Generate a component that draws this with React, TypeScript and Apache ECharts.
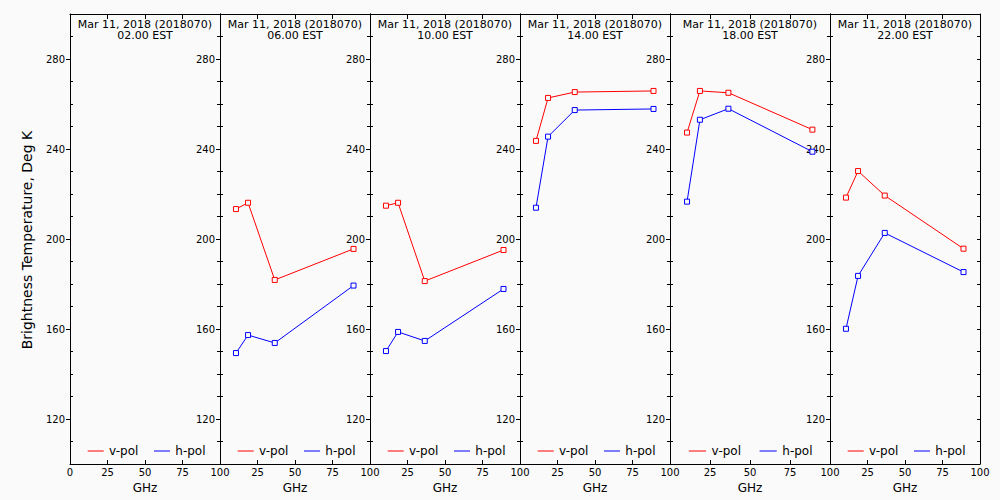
import React, { useEffect, useRef } from "react";
import * as echarts from "echarts";

// ---- data ----
const freqs = [10.65, 18.7, 36.5, 89.0];
const dateLabel = "Mar 11, 2018 (2018070)";
const times = ["02.00 EST", "06.00 EST", "10.00 EST", "14.00 EST", "18.00 EST", "22.00 EST"];

const vPol02: number[] = [];
const hPol02: number[] = [];
const vPol06 = [213.3, 216.1, 181.8, 195.6];
const hPol06 = [149.3, 157.3, 153.8, 179.3];
const vPol10 = [214.8, 216.1, 181.3, 195.1];
const hPol10 = [150.2, 158.7, 154.7, 177.8];
const vPol14 = [243.6, 262.7, 265.3, 265.8];
const hPol14 = [213.9, 245.5, 257.3, 257.8];
const vPol18 = [247.3, 265.8, 265.0, 248.6];
const hPol18 = [216.6, 253.0, 257.9, 238.8];
const vPol22 = [218.4, 230.2, 219.3, 195.7];
const hPol22 = [160.1, 183.6, 202.7, 185.3];

const vPols = [vPol02, vPol06, vPol10, vPol14, vPol18, vPol22];
const hPols = [hPol02, hPol06, hPol10, hPol14, hPol18, hPol22];

const yMajor = [120, 160, 200, 240, 280];
const yMinor = [110, 130, 140, 150, 170, 180, 190, 210, 220, 230, 250, 260, 270, 290];
const yAll = [110, 120, 130, 140, 150, 160, 170, 180, 190, 200, 210, 220, 230, 240, 250, 260, 270, 280, 290];
const xTicks = [25, 50, 75];
const xLabelsFirst = [0, 25, 50, 75, 100];
const xLabelsOther = [25, 50, 75, 100];

const RED = "#ff0000";
const BLUE = "#0000ff";
const FONT = "DejaVu Sans";

export default function App() {
  const ref = useRef<HTMLDivElement>(null);
  useEffect(() => {
    if (!ref.current) return;
    const chart = echarts.init(ref.current, undefined, { renderer: "svg" });

    const lefts = [70, 220, 370, 520, 670, 830];
    const widths = [150, 150, 150, 150, 160, 150];
    const top = 14;
    const height = 450;

    const grid: any[] = [];
    const xAxis: any[] = [];
    const yAxis: any[] = [];
    const series: any[] = [];
    const graphic: any[] = [];

    const mkData = (vals: number[]) => vals.map((v, i) => [freqs[i], v]);

    for (let i = 0; i < 6; i++) {
      const L = lefts[i];
      const W = widths[i];
      grid.push({ left: L, top, width: W, height, containLabel: false });
      // bottom x
      xAxis.push({
        type: "value",
        gridIndex: i,
        position: "bottom",
        min: 0,
        max: 100,
        name: "GHz",
        nameLocation: "middle",
        nameGap: 14,
        nameTextStyle: { fontFamily: FONT, fontSize: 12, color: "#000", verticalAlign: "top" },
        axisLine: { show: true, onZero: false, lineStyle: { color: "#000", width: 1 } },
        axisTick: { show: true, inside: true, length: 4, customValues: xTicks, lineStyle: { color: "#000" } },
        axisLabel: {
          show: true,
          margin: 3,
          fontFamily: FONT,
          fontSize: 10,
          color: "#000",
          customValues: i === 0 ? xLabelsFirst : xLabelsOther,
        },
        splitLine: { show: false },
      });
      // top x
      xAxis.push({
        type: "value",
        gridIndex: i,
        position: "top",
        min: 0,
        max: 100,
        axisLine: { show: true, onZero: false, lineStyle: { color: "#000", width: 1 } },
        axisTick: { show: true, inside: true, length: 5, customValues: xTicks, lineStyle: { color: "#000" } },
        axisLabel: { show: false },
        splitLine: { show: false },
      });
      // left major
      yAxis.push({
        type: "value",
        gridIndex: i,
        position: "left",
        min: 100,
        max: 300,
        axisLine: { show: true, onZero: false, lineStyle: { color: "#000", width: 1 } },
        axisTick: { show: true, inside: false, length: 4, customValues: yMajor, lineStyle: { color: "#000" } },
        axisLabel: {
          show: true,
          margin: 5,
          fontFamily: FONT,
          fontSize: 10,
          color: "#000",
          customValues: yMajor,
        },
        splitLine: { show: false },
      });
      // left minor
      yAxis.push({
        type: "value",
        gridIndex: i,
        position: "left",
        min: 100,
        max: 300,
        axisLine: { show: false },
        axisTick: { show: true, inside: true, length: 3, customValues: yMinor, lineStyle: { color: "#000" } },
        axisLabel: { show: false },
        splitLine: { show: false },
      });
      // right
      yAxis.push({
        type: "value",
        gridIndex: i,
        position: "right",
        min: 100,
        max: 300,
        axisLine: { show: true, onZero: false, lineStyle: { color: "#000", width: 1 } },
        axisTick: { show: true, inside: true, length: 3, customValues: yAll, lineStyle: { color: "#000" } },
        axisLabel: { show: false },
        splitLine: { show: false },
      });

      const pols: [string, number[], string][] = [
        ["v-pol", vPols[i], RED],
        ["h-pol", hPols[i], BLUE],
      ];
      for (const [name, vals, color] of pols) {
        if (!vals.length) continue;
        series.push({
          type: "line",
          name,
          xAxisIndex: 2 * i,
          yAxisIndex: 3 * i,
          data: mkData(vals),
          symbol: "rect",
          symbolSize: 5,
          lineStyle: { color, width: 1 },
          itemStyle: { color: "#fafafa", borderColor: color, borderWidth: 1 },
          emphasis: { disabled: true },
          z: 3,
        });
      }

      // title (two lines in one text)
      const cx = L + W / 2;
      graphic.push({
        type: "text",
        x: cx,
        y: 30,
        style: {
          text: dateLabel + "\n" + times[i],
          font: `11px "${FONT}"`,
          lineHeight: 11,
          fill: "#000",
          align: "center",
          verticalAlign: "middle",
        },
      });
      // legend
      const ly = 451;
      graphic.push({
        type: "line",
        shape: { x1: L + W * 0.118, y1: ly, x2: L + W * 0.225, y2: ly },
        style: { stroke: RED, lineWidth: 1 },
      });
      graphic.push({
        type: "text",
        x: L + W * 0.26,
        y: ly,
        style: { text: "v-pol", font: `12px "${FONT}"`, fill: "#000", align: "left", verticalAlign: "middle" },
      });
      graphic.push({
        type: "line",
        shape: { x1: L + W * 0.56, y1: ly, x2: L + W * 0.667, y2: ly },
        style: { stroke: BLUE, lineWidth: 1 },
      });
      graphic.push({
        type: "text",
        x: L + W * 0.702,
        y: ly,
        style: { text: "h-pol", font: `12px "${FONT}"`, fill: "#000", align: "left", verticalAlign: "middle" },
      });
    }

    graphic.push({
      type: "text",
      x: 26.5,
      y: 240,
      rotation: Math.PI / 2,
      style: {
        text: "Brightness Temperature, Deg K",
        font: `14px "${FONT}"`,
        fill: "#000",
        align: "center",
        verticalAlign: "middle",
      },
    });

    chart.setOption({
      animation: false,
      backgroundColor: "#fafafa",
      textStyle: { fontFamily: FONT },
      grid,
      xAxis,
      yAxis,
      series,
      graphic,
    });
    return () => chart.dispose();
  }, []);
  return (
    <div
      ref={ref}
      style={{ position: "fixed", left: 0, top: 0, width: 1000, height: 500 }}
    />
  );
}
